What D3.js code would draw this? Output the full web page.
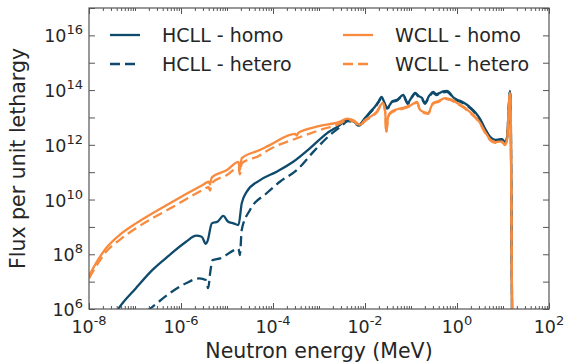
<!DOCTYPE html>
<html>
<head>
<meta charset="utf-8">
<script src="https://cdn.jsdelivr.net/npm/d3@7"></script>
<style>
  body { margin: 0; background: #fff; }
  svg { display: block; font-family: "DejaVu Sans", sans-serif; }
</style>
</head>
<body>
<svg width="568" height="363"></svg>
<script>
const width = 568, height = 363;
const svg = d3.select("svg");
const margin = { left: 89, right: 19, top: 8, bottom: 54 };

// values as [log10 E (MeV), log10 flux]
const hcllHomo = [
  [-7.6, 5.3], [-7.38, 5.96], [-6.98, 6.76], [-6.62, 7.43], [-6.25, 7.97], [-5.89, 8.46],
  [-5.67, 8.68], [-5.55, 8.64], [-5.46, 8.38], [-5.42, 8.50], [-5.33, 9.13], [-5.20, 9.20],
  [-5.08, 9.40], [-4.98, 9.20], [-4.86, 9.13], [-4.75, 9.07], [-4.68, 9.86], [-4.57, 10.29],
  [-4.28, 10.71], [-3.92, 11.02], [-3.56, 11.38], [-3.20, 11.87], [-2.83, 12.42], [-2.54, 12.73],
  [-2.40, 12.93], [-2.25, 12.85], [-2.13, 12.73], [-2.0, 12.98], [-1.89, 13.20], [-1.78, 13.40],
  [-1.70, 13.60], [-1.64, 13.75], [-1.58, 13.55], [-1.52, 13.35], [-1.40, 13.60], [-1.30, 13.65],
  [-1.17, 13.82], [-1.07, 13.53], [-1.0, 13.70], [-0.91, 13.90], [-0.83, 13.78], [-0.76, 13.71],
  [-0.70, 13.53], [-0.60, 13.80], [-0.52, 13.93], [-0.45, 13.85], [-0.37, 13.90], [-0.30, 13.95],
  [-0.22, 13.97], [-0.15, 13.88], [-0.09, 13.75], [0.0, 13.65], [0.10, 13.58], [0.20, 13.48],
  [0.28, 13.38], [0.40, 13.18], [0.50, 12.95], [0.60, 12.62], [0.72, 12.29], [0.83, 12.18],
  [0.92, 12.20], [0.98, 12.21], [1.04, 12.10], [1.09, 12.29], [1.12, 13.20], [1.15, 13.97],
  [1.165, 13.6], [1.17, 13.02], [1.18, 10.35], [1.20, 5.0]
];

const hcllHetero = [
  [-7.0, 5.6], [-6.62, 6.08], [-6.25, 6.57], [-5.89, 6.94], [-5.60, 7.12], [-5.46, 7.06],
  [-5.41, 6.76], [-5.36, 7.40], [-5.31, 7.79], [-5.15, 7.85], [-4.83, 8.16], [-4.75, 8.20],
  [-4.72, 7.97], [-4.68, 8.89], [-4.50, 9.62], [-4.14, 10.23], [-3.85, 10.65], [-3.48, 11.08],
  [-3.12, 11.75], [-2.76, 12.36], [-2.50, 12.70],
  [-2.37, 12.87], [-2.25, 12.82], [-2.13, 12.70], [-2.0, 12.95], [-1.89, 13.17], [-1.78, 13.37],
  [-1.70, 13.57], [-1.64, 13.72], [-1.58, 13.52], [-1.52, 13.32], [-1.40, 13.57], [-1.30, 13.62],
  [-1.17, 13.79], [-1.07, 13.50], [-1.0, 13.67], [-0.91, 13.87], [-0.83, 13.75], [-0.76, 13.68],
  [-0.70, 13.50], [-0.60, 13.77], [-0.52, 13.90], [-0.45, 13.82], [-0.37, 13.87], [-0.30, 13.92],
  [-0.22, 13.94], [-0.15, 13.85], [-0.09, 13.72], [0.0, 13.62], [0.10, 13.55], [0.20, 13.45],
  [0.28, 13.35], [0.40, 13.15], [0.50, 12.92], [0.60, 12.59], [0.72, 12.26], [0.83, 12.15],
  [0.92, 12.17], [0.98, 12.18], [1.04, 12.07], [1.09, 12.26], [1.12, 13.17], [1.15, 13.94],
  [1.165, 13.57], [1.17, 12.99], [1.18, 10.3], [1.20, 5.0]
];

const wcllHomo = [
  [-8.0, 7.21], [-7.85, 7.67], [-7.63, 8.22], [-7.34, 8.70], [-6.98, 9.13], [-6.62, 9.50],
  [-6.25, 9.86], [-5.89, 10.20], [-5.53, 10.53], [-5.40, 10.65], [-5.37, 10.55], [-5.33, 10.81],
  [-5.0, 11.08], [-4.75, 11.38], [-4.72, 11.08], [-4.68, 11.51], [-4.30, 11.80], [-4.07, 11.99],
  [-3.52, 12.40], [-3.48, 12.34], [-3.45, 12.44], [-2.98, 12.69], [-2.54, 12.85], [-2.39, 12.96],
  [-2.25, 12.90], [-2.11, 12.73], [-2.0, 12.90], [-1.89, 13.02], [-1.75, 13.20], [-1.61, 13.53],
  [-1.56, 13.20], [-1.54, 12.47], [-1.50, 13.0], [-1.46, 13.16], [-1.30, 13.30], [-1.17, 13.35],
  [-1.0, 13.45], [-0.87, 13.57], [-0.80, 13.27], [-0.63, 13.16], [-0.52, 13.53], [-0.40, 13.60],
  [-0.26, 13.71], [-0.12, 13.65], [0.0, 13.53], [0.15, 13.38], [0.28, 13.20], [0.40, 13.02],
  [0.50, 12.80], [0.60, 12.50], [0.72, 12.20], [0.83, 12.10], [0.92, 12.12], [0.98, 12.12],
  [1.04, 12.02], [1.09, 12.20], [1.12, 13.10], [1.15, 13.92], [1.165, 13.5], [1.17, 12.90],
  [1.18, 10.35], [1.20, 5.0]
];

const wcllHetero = [
  [-8.0, 7.12], [-7.85, 7.55], [-7.63, 8.09], [-7.34, 8.52], [-6.98, 8.95], [-6.62, 9.32],
  [-6.25, 9.66], [-5.89, 10.01], [-5.53, 10.35], [-5.40, 10.45], [-5.37, 10.33], [-5.33, 10.60],
  [-5.0, 10.90], [-4.75, 11.16], [-4.72, 10.92], [-4.68, 11.32], [-4.30, 11.60], [-4.07, 11.84],
  [-3.48, 12.24], [-2.98, 12.54], [-2.54, 12.78], [-2.39, 12.90], [-2.25, 12.86],
  [-2.11, 12.70], [-2.0, 12.87], [-1.89, 12.99], [-1.75, 13.17], [-1.61, 13.50], [-1.56, 13.17],
  [-1.54, 12.44], [-1.50, 12.97], [-1.46, 13.13], [-1.30, 13.27], [-1.17, 13.32], [-1.0, 13.42],
  [-0.87, 13.54], [-0.80, 13.24], [-0.63, 13.13], [-0.52, 13.50], [-0.40, 13.57], [-0.26, 13.68],
  [-0.12, 13.62], [0.0, 13.50], [0.15, 13.35], [0.28, 13.17], [0.40, 12.99], [0.50, 12.77],
  [0.60, 12.47], [0.72, 12.17], [0.83, 12.07], [0.92, 12.09], [0.98, 12.09], [1.04, 11.99],
  [1.09, 12.17], [1.12, 13.07], [1.15, 13.89], [1.165, 13.47], [1.17, 12.87], [1.18, 10.3],
  [1.20, 5.0]
];

const xLabelExps = [-8, -6, -4, -2, 0, 2];
const yLabelExps = [6, 8, 10, 12, 14, 16];
const yDecadeExps = [6, 7, 8, 9, 10, 11, 12, 13, 14, 15, 16, 17];

const series = [
  { name: "HCLL - homo", data: hcllHomo, color: "#0e4a6c", dash: null },
  { name: "HCLL - hetero", data: hcllHetero, color: "#0e4a6c", dash: "10,5" },
  { name: "WCLL - homo", data: wcllHomo, color: "#f88b3d", dash: null },
  { name: "WCLL - hetero", data: wcllHetero, color: "#f88b3d", dash: "10,5" }
];

const x = d3.scaleLog().domain([1e-8, 1e2]).range([margin.left, width - margin.right]);
const y = d3.scaleLog().domain([1e6, 1e17]).range([height - margin.bottom, margin.top]);

// tick positions on x: every n * 10^k
const xMinor = [];
for (let k = -8; k < 2; k++) for (let n = 1; n < 10; n++) xMinor.push(n * Math.pow(10, k));
xMinor.push(100);
const xMajor = xLabelExps.map(e => Math.pow(10, e));
const yTicks = yDecadeExps.map(e => Math.pow(10, e));

svg.append("defs").append("clipPath").attr("id", "clip")
  .append("rect")
  .attr("x", margin.left).attr("y", margin.top)
  .attr("width", width - margin.left - margin.right)
  .attr("height", height - margin.top - margin.bottom);

const line = d3.line()
  .x(d => x(Math.pow(10, d[0])))
  .y(d => y(Math.pow(10, d[1])))
  .curve(d3.curveMonotoneX);

svg.append("g").attr("clip-path", "url(#clip)")
  .selectAll("path")
  .data(series)
  .join("path")
  .attr("fill", "none")
  .attr("stroke", d => d.color)
  .attr("stroke-width", 2.3)
  .attr("stroke-linejoin", "round")
  .attr("stroke-dasharray", d => d.dash)
  .attr("d", d => line(d.data));

// axes, ticks pointing inside
const tickCol = "#555";
function styleAxis(g) {
  g.select(".domain").remove();
  g.selectAll(".tick line").attr("stroke", tickCol);
}
const bottom = height - margin.bottom, right = width - margin.right;
const minorOnly = xMinor.filter(v => !xMajor.some(m => Math.abs(m - v) / m < 1e-9));

svg.append("g").attr("transform", `translate(0,${bottom})`)
  .call(d3.axisBottom(x).tickValues(minorOnly).tickSize(-3).tickFormat("")).call(styleAxis);
svg.append("g").attr("transform", `translate(0,${bottom})`)
  .call(d3.axisBottom(x).tickValues(xMajor).tickSize(-6).tickFormat("")).call(styleAxis);
svg.append("g").attr("transform", `translate(0,${margin.top})`)
  .call(d3.axisTop(x).tickValues(minorOnly).tickSize(-3).tickFormat("")).call(styleAxis);
svg.append("g").attr("transform", `translate(0,${margin.top})`)
  .call(d3.axisTop(x).tickValues(xMajor).tickSize(-6).tickFormat("")).call(styleAxis);
svg.append("g").attr("transform", `translate(${margin.left},0)`)
  .call(d3.axisLeft(y).tickValues(yTicks).tickSize(-6).tickFormat("")).call(styleAxis);
svg.append("g").attr("transform", `translate(${right},0)`)
  .call(d3.axisRight(y).tickValues(yTicks).tickSize(-6).tickFormat("")).call(styleAxis);

svg.append("rect")
  .attr("x", margin.left).attr("y", margin.top)
  .attr("width", right - margin.left).attr("height", bottom - margin.top)
  .attr("fill", "none").attr("stroke", tickCol).attr("stroke-width", 1.2);

const textCol = "#262626";
function powLabel(sel, e) {
  sel.append("tspan").text("10");
  sel.append("tspan").attr("dy", -8).attr("font-size", 13).text(e < 0 ? "-" + (-e) : e);
}

svg.append("g").selectAll("text")
  .data(xLabelExps)
  .join("text")
  .attr("x", d => x(Math.pow(10, d)))
  .attr("y", bottom + 24)
  .attr("text-anchor", "middle")
  .attr("font-size", 17.5)
  .attr("fill", textCol)
  .each(function (d) { powLabel(d3.select(this), d); });

svg.append("g").selectAll("text")
  .data(yLabelExps)
  .join("text")
  .attr("x", margin.left - 6)
  .attr("y", d => y(Math.pow(10, d)) + 7)
  .attr("text-anchor", "end")
  .attr("font-size", 17.5)
  .attr("fill", textCol)
  .each(function (d) { powLabel(d3.select(this), d); });

svg.append("text")
  .attr("x", (margin.left + right) / 2).attr("y", 358)
  .attr("text-anchor", "middle").attr("font-size", 20.5).attr("fill", textCol)
  .text("Neutron energy (MeV)");

svg.append("text")
  .attr("transform", `translate(25,${(margin.top + bottom) / 2}) rotate(-90)`)
  .attr("text-anchor", "middle").attr("font-size", 20.5).attr("fill", textCol)
  .text("Flux per unit lethargy");

// legend, two columns
const legend = svg.append("g").selectAll("g")
  .data(series)
  .join("g")
  .attr("transform", (d, i) => `translate(${i < 2 ? 110 : 343},${i % 2 === 0 ? 35 : 64})`);
legend.append("line")
  .attr("x1", 0).attr("x2", 30)
  .attr("stroke", d => d.color).attr("stroke-width", 2.3)
  .attr("stroke-dasharray", d => d.dash);
legend.append("text")
  .attr("x", 52).attr("y", 7)
  .attr("font-size", 19).attr("fill", textCol)
  .text(d => d.name);
</script>
</body>
</html>
